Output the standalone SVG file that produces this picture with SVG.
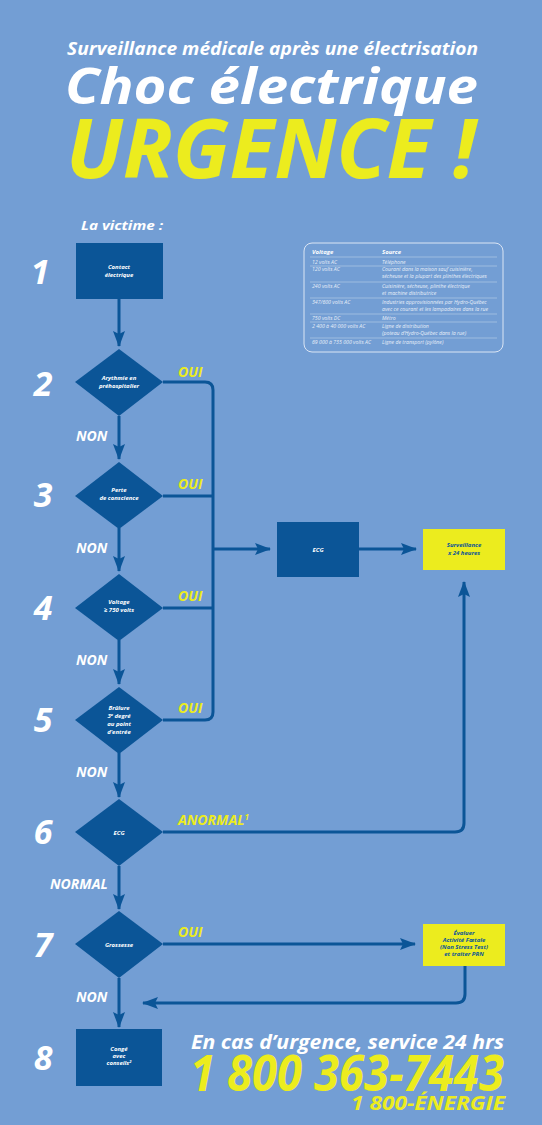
<svg xmlns="http://www.w3.org/2000/svg" width="542" height="1125" viewBox="0 0 542 1125">
<defs>
<style>
.bi{font-family:"Open Sans","Liberation Sans",sans-serif;font-weight:700;font-style:italic}
.w{fill:#ffffff}
.y{fill:#ecec1e}
.node{fill:#0b5597}
.ybox{fill:#ecec1e}
.nt{font-family:"Open Sans","Liberation Sans",sans-serif;font-weight:700;font-style:italic;font-size:6px;fill:#ffffff;text-anchor:middle}
.yt{font-family:"Open Sans","Liberation Sans",sans-serif;font-weight:700;font-style:italic;font-size:6px;fill:#0b5597;text-anchor:middle}
.num{font-family:"Open Sans","Liberation Sans",sans-serif;font-weight:700;font-style:italic;font-size:34px;fill:#ffffff;text-anchor:middle}
.lab{font-family:"Open Sans","Liberation Sans",sans-serif;font-weight:700;font-style:italic;font-size:14px}
.tb{font-family:"Open Sans","Liberation Sans",sans-serif;font-style:italic;font-size:5.2px;fill:#e8eef8}
.tbh{font-family:"Open Sans","Liberation Sans",sans-serif;font-style:italic;font-weight:700;font-size:6px;fill:#ffffff}
.ln{fill:none;stroke:#0b5597;stroke-width:3}
.tl{stroke:#c9d8ee;stroke-width:0.5}
</style>
<marker id="ah" markerUnits="userSpaceOnUse" markerWidth="16" markerHeight="12" refX="15" refY="6" orient="auto">
<path d="M0,0 L16,6 L0,12 L3,6 Z" fill="#0b5597"/>
</marker>
</defs>
<rect x="0" y="0" width="542" height="1125" fill="#739ed4"/>

<g id="title">
<text class="bi w" x="67" y="55" font-size="17" textLength="411" lengthAdjust="spacingAndGlyphs">Surveillance médicale après une électrisation</text>
<text class="bi w" x="65" y="104" font-size="50" textLength="413" lengthAdjust="spacingAndGlyphs">Choc électrique</text>
<text class="bi y" x="66" y="178" font-size="82" textLength="410" lengthAdjust="spacingAndGlyphs">URGENCE !</text>
<text class="bi w" x="81" y="230" font-size="13" textLength="82" lengthAdjust="spacingAndGlyphs">La victime :</text>
</g>

<g id="table">
<rect x="304" y="243" width="199" height="109" rx="8" fill="none" stroke="#dbe5f4" stroke-width="1"/>
<text class="tbh" x="312" y="254">Voltage</text>
<text class="tbh" x="382" y="254">Source</text>
<line class="tl" x1="310" y1="257" x2="497" y2="257"/>
<text class="tb" x="312" y="264">12 volts AC</text>
<text class="tb" x="382" y="264">Téléphone</text>
<line class="tl" x1="310" y1="266" x2="497" y2="266"/>
<text class="tb" x="312" y="271">120 volts AC</text>
<text class="tb" x="382" y="271">Courant dans la maison sauf cuisinière,</text>
<text class="tb" x="382" y="278">sécheuse et la plupart des plinthes électriques</text>
<line class="tl" x1="310" y1="282" x2="497" y2="282"/>
<text class="tb" x="312" y="288">240 volts AC</text>
<text class="tb" x="382" y="288">Cuisinière, sécheuse, plinthe électrique</text>
<text class="tb" x="382" y="295">et machine distributrice</text>
<line class="tl" x1="310" y1="298" x2="497" y2="298"/>
<text class="tb" x="312" y="304">347/600 volts AC</text>
<text class="tb" x="382" y="304">Industries approvisionnées par Hydro-Québec</text>
<text class="tb" x="382" y="311">avec ce courant et les lampadaires dans la rue</text>
<line class="tl" x1="310" y1="314" x2="497" y2="314"/>
<text class="tb" x="312" y="320">750 volts DC</text>
<text class="tb" x="382" y="320">Métro</text>
<line class="tl" x1="310" y1="322" x2="497" y2="322"/>
<text class="tb" x="312" y="328">2 400 à 40 000 volts AC</text>
<text class="tb" x="382" y="328">Ligne de distribution</text>
<text class="tb" x="382" y="335">(poteau d’Hydro-Québec dans la rue)</text>
<line class="tl" x1="310" y1="338" x2="497" y2="338"/>
<text class="tb" x="312" y="344">69 000 à 735 000 volts AC</text>
<text class="tb" x="382" y="344">Ligne de transport (pylône)</text>
</g>

<g id="numbers">
<text class="num" x="40" y="284">1</text>
<text class="num" x="43" y="396">2</text>
<text class="num" x="43" y="507">3</text>
<text class="num" x="43" y="620">4</text>
<text class="num" x="43" y="732">5</text>
<text class="num" x="43" y="844">6</text>
<text class="num" x="43" y="957">7</text>
<text class="num" x="43" y="1070">8</text>
</g>

<g id="connectors">
<line class="ln" x1="119" y1="299" x2="119" y2="346" marker-end="url(#ah)"/>
<line class="ln" x1="119" y1="416" x2="119" y2="459" marker-end="url(#ah)"/>
<line class="ln" x1="119" y1="528" x2="119" y2="571" marker-end="url(#ah)"/>
<line class="ln" x1="119" y1="640" x2="119" y2="684" marker-end="url(#ah)"/>
<line class="ln" x1="119" y1="753" x2="119" y2="797" marker-end="url(#ah)"/>
<line class="ln" x1="119" y1="866" x2="119" y2="909" marker-end="url(#ah)"/>
<line class="ln" x1="119" y1="978" x2="119" y2="1027" marker-end="url(#ah)"/>
<path class="ln" d="M163,382 H205 Q213,382 213,390 V712 Q213,720 205,720 H163"/>
<line class="ln" x1="163" y1="496" x2="213" y2="496"/>
<line class="ln" x1="163" y1="608" x2="213" y2="608"/>
<line class="ln" x1="213" y1="549" x2="270" y2="549" marker-end="url(#ah)"/>
<line class="ln" x1="359" y1="549" x2="416" y2="549" marker-end="url(#ah)"/>
<path class="ln" d="M163,832 H455 Q464,832 464,823 V582" marker-end="url(#ah)"/>
<line class="ln" x1="163" y1="944" x2="415" y2="944" marker-end="url(#ah)"/>
<path class="ln" d="M465,966 V994 Q465,1003 456,1003 H143" marker-end="url(#ah)"/>
</g>

<g id="labels">
<text class="lab y" x="178" y="377">OUI</text>
<text class="lab y" x="178" y="489">OUI</text>
<text class="lab y" x="178" y="601">OUI</text>
<text class="lab y" x="178" y="713">OUI</text>
<text class="lab y" x="178" y="825">ANORMAL<tspan font-size="8" dy="-5">1</tspan></text>
<text class="lab y" x="178" y="937">OUI</text>
<text class="lab w" x="76" y="441">NON</text>
<text class="lab w" x="76" y="553">NON</text>
<text class="lab w" x="76" y="665">NON</text>
<text class="lab w" x="76" y="777">NON</text>
<text class="lab w" x="50" y="889">NORMAL</text>
<text class="lab w" x="76" y="1002">NON</text>
</g>

<g id="n1">
<rect class="node" x="76" y="243" width="87" height="56"/>
<text class="nt" x="119" y="269">Contact</text>
<text class="nt" x="119" y="277">électrique</text>
</g>
<g id="n2">
<polygon class="node" points="119,349 163,382 119,416 75,382"/>
<text class="nt" x="119" y="380">Arythmie en</text>
<text class="nt" x="119" y="388">préhospitalier</text>
</g>
<g id="n3">
<polygon class="node" points="119,462 163,496 119,529 75,496"/>
<text class="nt" x="119" y="492">Perte</text>
<text class="nt" x="119" y="500">de conscience</text>
</g>
<g id="n4">
<polygon class="node" points="119,574 163,608 119,641 75,608"/>
<text class="nt" x="119" y="604">Voltage</text>
<text class="nt" x="119" y="612">≥ 750 volts</text>
</g>
<g id="n5">
<polygon class="node" points="119,687 163,720 119,754 75,720"/>
<text class="nt" x="119" y="710">Brûlure</text>
<text class="nt" x="119" y="718">3<tspan font-size="4" dy="-2">e</tspan><tspan dy="2"> degré</tspan></text>
<text class="nt" x="119" y="726">au point</text>
<text class="nt" x="119" y="734">d’entrée</text>
</g>
<g id="n6">
<polygon class="node" points="119,799 163,832 119,866 75,832"/>
<text class="nt" x="119" y="835" font-size="5">ECG</text>
</g>
<g id="n7">
<polygon class="node" points="119,911 163,944 119,978 75,944"/>
<text class="nt" x="119" y="947">Grossesse</text>
</g>
<g id="n8">
<rect class="node" x="76" y="1029" width="86" height="57"/>
<text class="nt" x="119" y="1051">Congé</text>
<text class="nt" x="119" y="1058">avec</text>
<text class="nt" x="119" y="1065">conseils<tspan font-size="4" dy="-2">2</tspan></text>
</g>
<g id="ecg">
<rect class="node" x="277" y="522" width="82" height="55"/>
<text class="nt" x="318" y="552">ECG</text>
</g>
<g id="surv">
<rect class="ybox" x="423" y="529" width="82" height="41"/>
<text class="yt" x="464" y="547">Surveillance</text>
<text class="yt" x="464" y="555">x 24 heures</text>
</g>
<g id="eval">
<rect class="ybox" x="423" y="924" width="82" height="42"/>
<text class="yt" x="464" y="935">Évaluer</text>
<text class="yt" x="464" y="942">Activité Fœtale</text>
<text class="yt" x="464" y="949">(Non Stress Test)</text>
<text class="yt" x="464" y="956">et traiter PRN</text>
</g>

<g id="footer">
<text class="bi w" x="191" y="1049" font-size="20" textLength="313" lengthAdjust="spacingAndGlyphs">En cas d’urgence, service 24 hrs</text>
<text class="bi y" x="190" y="1091" font-size="50" textLength="314" lengthAdjust="spacingAndGlyphs">1 800 363-7443</text>
<text class="bi y" x="351" y="1110" font-size="19" textLength="154" lengthAdjust="spacingAndGlyphs">1 800-ÉNERGIE</text>
</g>
</svg>
